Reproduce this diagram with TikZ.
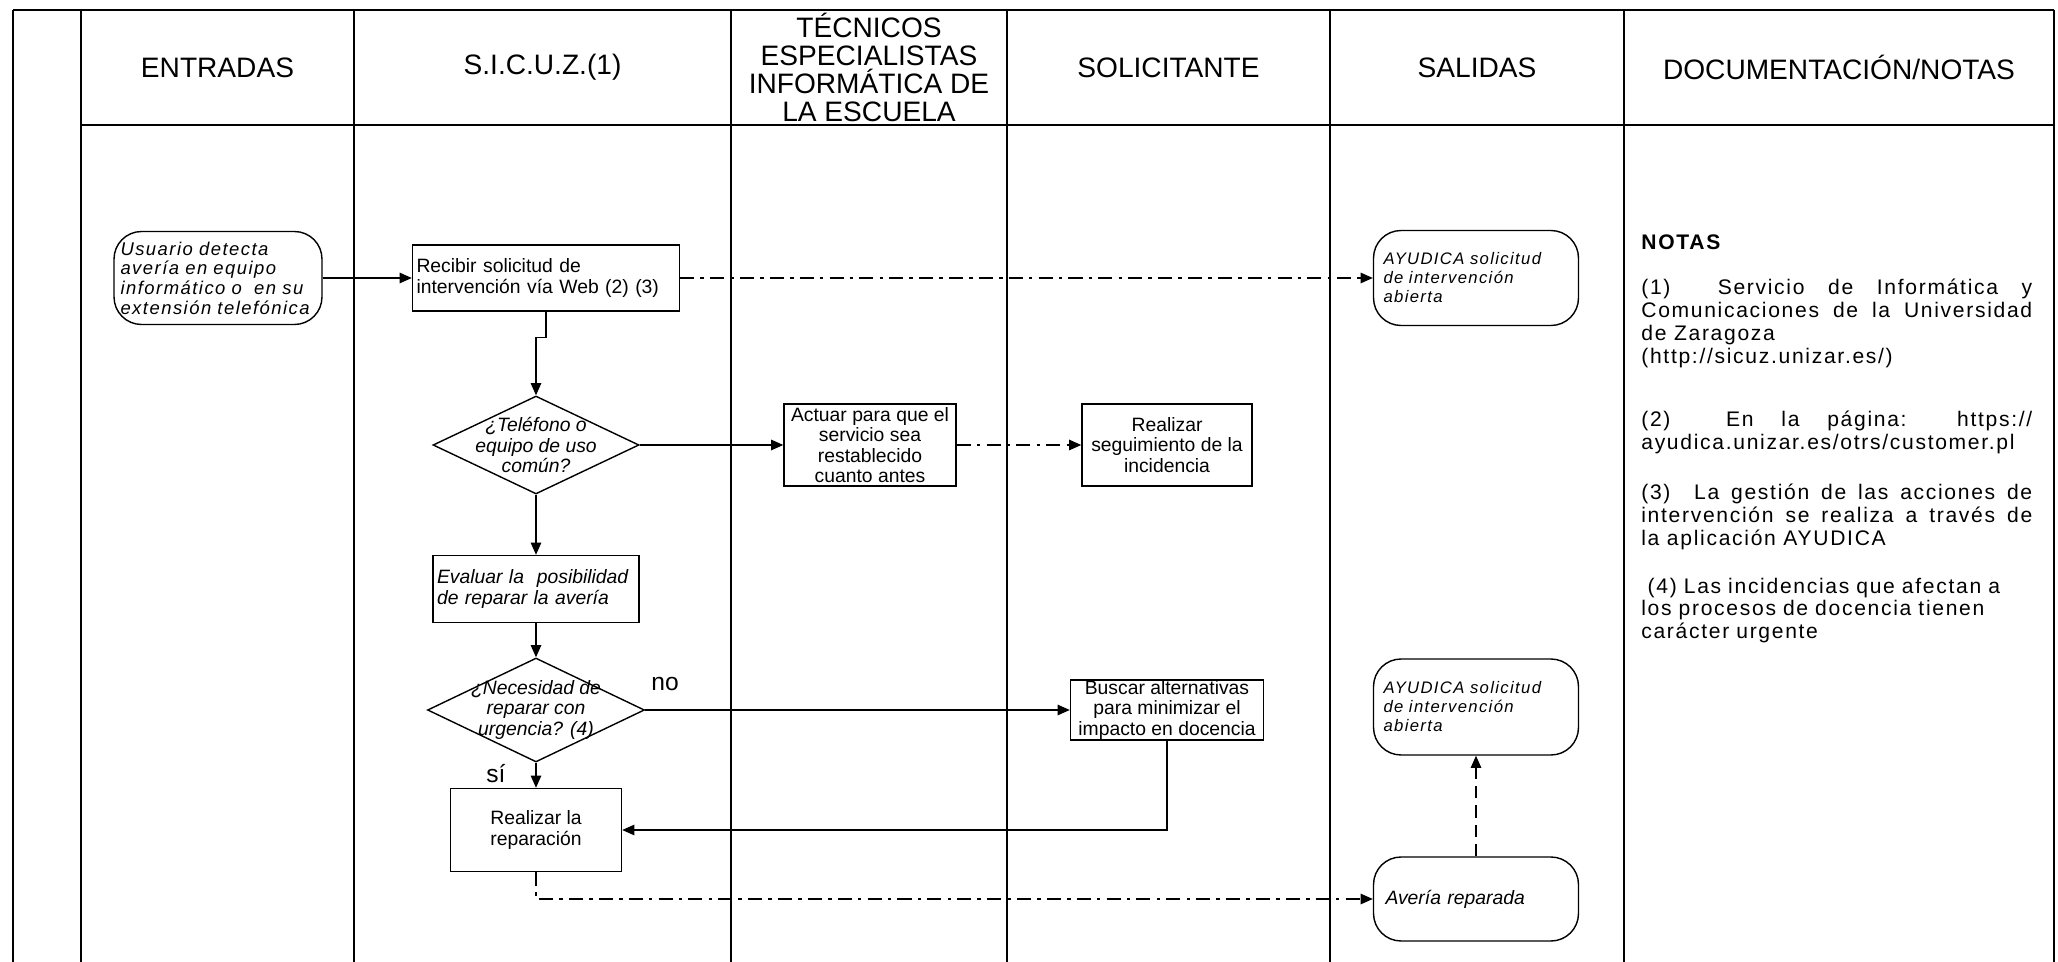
\documentclass[tikz,border=0pt]{standalone}
\usepackage{fontspec}
\setmainfont{Liberation Sans}
\newfontfamily\widefont[LetterSpace=8]{Liberation Sans}
\usetikzlibrary{shapes.geometric,arrows.meta}

\tikzset{
  lane/.style={line width=1pt},
  head/.style={font=\fontsize{16}{16}\selectfont, align=center},
  box/.style={draw, line width=0.8pt, inner sep=0pt, font=\fontsize{11}{11.5}\selectfont},
  soft/.style={box, rounded corners=0.55cm},
  cond/.style={draw, diamond, line width=0.8pt, inner sep=0pt},
  condtext/.style={inner sep=0pt, align=center, font=\fontsize{11}{11.5}\selectfont\itshape},
  flow/.style={line width=0.8pt, -{Triangle[length=7pt,width=6pt]}},
  dashdot/.style={flow, dash pattern=on 8pt off 3.5pt on 2pt off 3.5pt},
  dashline/.style={flow, dash pattern=on 7pt off 4pt},
  lbl/.style={inner sep=0pt, font=\fontsize{14}{16}\selectfont},
  note/.style={anchor=base west, inner sep=0pt, text width=7.82cm, align=justify,
    font=\widefont\fontsize{12}{13}\selectfont},
}

\begin{document}
\begin{tikzpicture}[x=0.02cm, y=-0.02cm]
  \useasboundingbox (0,0) rectangle (2058,962);

  % swimlanes
  \draw[lane] (13,10) -- (2054,10);
  \draw[lane] (81,125) -- (2054,125);
  \foreach \x in {13,81,354,731,1007,1330,1624,2054}
    \draw[lane] (\x,10) -- (\x,962);

  \foreach \x/\name/\txt in {217.5/ent/ENTRADAS, 542.5/sic/S.I.C.U.Z.(1),
      869/tec/{TÉCNICOS\\ ESPECIALISTAS\\ INFORMÁTICA DE\\ LA ESCUELA},
      1168.5/sol/SOLICITANTE, 1477/sal/SALIDAS, 1839/doc/{DOCUMENTACIÓN/NOTAS}}
    \node[head] (h-\name) at (\x,67.5) {\txt};

  % flow
  \node[soft, minimum width=4.16cm, minimum height=1.86cm, text width=3.9cm, align=left,
    font=\widefont\itshape\fontsize{10.5}{11.2}\selectfont] (usuario) at (218,278)
    {Usuario detecta\\ avería en equipo\\ informático o~ en su\\ extensión telefónica};
  \node[box, minimum width=5.34cm, minimum height=1.32cm, text width=5.18cm, align=left]
    (recibir) at (546,278) {Recibir solicitud de\\ intervención vía Web (2) (3)};
  \node[soft, minimum width=4.1cm, minimum height=1.9cm, text width=3.7cm, align=left,
    font=\widefont\itshape\fontsize{9.5}{10.8}\selectfont] (ayudica) at (1476,278)
    {AYUDICA solicitud\\ de intervención\\ abierta};

  \node[cond, minimum width=4.12cm, minimum height=1.96cm] (tel) at (536,445) {};
  \node[condtext] (tel-t) at (tel) {¿Teléfono o\\ equipo de uso\\ común?};
  \node[box, minimum width=3.44cm, minimum height=1.64cm, align=center] (actuar) at (870,445)
    {Actuar para que el\\ servicio sea\\ restablecido\\ cuanto antes};
  \node[box, minimum width=3.4cm, minimum height=1.64cm, align=center] (seguim) at (1167,445)
    {Realizar\\ seguimiento de la\\ incidencia};

  \node[box, minimum width=4.12cm, minimum height=1.34cm, text width=3.96cm, align=left,
    font=\itshape\fontsize{11}{11.5}\selectfont] (evaluar) at (536,589)
    {Evaluar la~ posibilidad\\ de reparar la avería};

  \node[cond, minimum width=4.34cm, minimum height=2.08cm] (urge) at (536,710) {};
  \node[condtext] (urge-t) at (urge) {¿Necesidad de\\ reparar con\\ urgencia? (4)};
  \node[box, minimum width=3.86cm, minimum height=1.2cm, align=center] (buscar) at (1167,710)
    {Buscar alternativas\\ para minimizar el\\ impacto en docencia};
  \node[soft, minimum width=4.1cm, minimum height=1.92cm, text width=3.7cm, align=left,
    font=\widefont\itshape\fontsize{9.5}{10.8}\selectfont] (ayudica2) at (1476,707)
    {AYUDICA solicitud\\ de intervención\\ abierta};

  \node[box, minimum width=3.42cm, minimum height=1.66cm, align=center] (repar) at (536,830)
    {Realizar la\\ reparación};
  \node[soft, minimum width=4.1cm, minimum height=1.68cm, text width=3.62cm, align=left,
    font=\itshape\fontsize{11}{11.5}\selectfont] (averia) at (1476,899) {Avería reparada};

  \node[lbl] (no) at (665,684) {no};
  \node[lbl] (si) at (496,774) {sí};

  \draw[flow] (usuario) -- (recibir);
  \draw[dashdot] (recibir) -- (ayudica);
  \draw[flow] (recibir.south) -- ++(0,26) -| (tel.north);
  \draw[flow] (tel) -- (actuar);
  \draw[dashdot] (actuar) -- (seguim);
  \draw[flow] (tel) -- (evaluar);
  \draw[flow] (evaluar) -- (urge);
  \draw[flow] (urge) -- (buscar);
  \draw[flow] (urge) -- (repar);
  \draw[flow] (buscar) |- (repar);
  \draw[dashdot] (repar) |- (averia);
  \draw[dashline] (averia) -- (ayudica2);

  % notes
  \node[note] (n0) at (1641,250) {\textbf{NOTAS}};
  \node[note] (n1) at (1641,295) {(1)~ Servicio de Informática y\linebreak
    Comunicaciones de la Universidad\linebreak de Zaragoza\newline (http://sicuz.unizar.es/)};
  \node[note] (n2) at (1641,427) {(2)~ En la página: https://\linebreak
    ayudica.unizar.es/otrs/customer.pl};
  \node[note] (n3) at (1641,500) {(3)~ La gestión de las acciones de\linebreak
    intervención se realiza a través de\linebreak la aplicación AYUDICA};
  \node[note, align=left] (n4) at (1641,593) {\hspace{0.3em}(4) Las incidencias que afectan a\\
    los procesos de docencia tienen\\ carácter urgente};
\end{tikzpicture}
\end{document}
